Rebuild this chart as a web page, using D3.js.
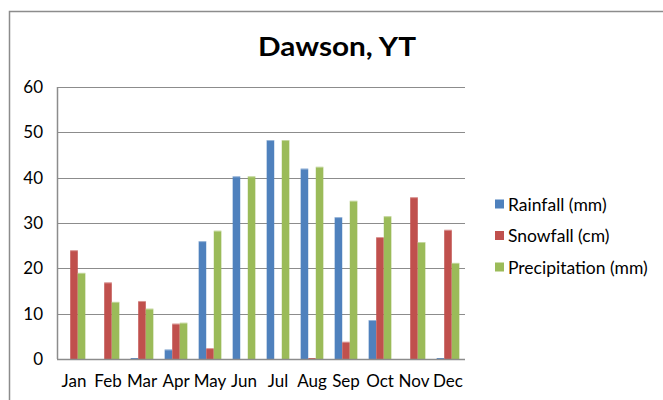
<!DOCTYPE html>
<html>
<head>
<meta charset="utf-8">
<script src="https://cdn.jsdelivr.net/npm/d3@7"></script>
<style>
    body { margin: 0; background: #fff; }
    svg { display: block; font-family: Lato, "Open Sans", sans-serif; }
</style>
</head>
<body>
<svg id="chart" width="663" height="400"></svg>
<script>
// Chart data
const months = ['Jan', 'Feb', 'Mar', 'Apr', 'May', 'Jun', 'Jul', 'Aug', 'Sep', 'Oct', 'Nov', 'Dec'];
const seriesNames = ['Rainfall (mm)', 'Snowfall (cm)', 'Precipitation (mm)'];
const rainfall = [0, 0, 0.2, 2.1, 26.0, 40.3, 48.3, 42.0, 31.3, 8.6, 0, 0.2];
const snowfall = [24.0, 16.9, 12.8, 7.8, 2.4, 0, 0, 0.2, 3.8, 26.9, 35.7, 28.5];
const precipitation = [19.0, 12.6, 11.1, 8.0, 28.3, 40.3, 48.3, 42.4, 34.9, 31.5, 25.8, 21.2];
const yTicks = [0, 10, 20, 30, 40, 50, 60];
const colors = ['#4F81BD', '#C0504D', '#9BBB59'];

const svg = d3.select('#chart');
const plot = { left: 57, right: 465, top: 87, bottom: 359 };

// Chart frame
svg.append('path')
    .attr('d', 'M9.5,400 V11.5 H663')
    .attr('fill', 'none')
    .attr('stroke', '#8c8c8c')
    .attr('stroke-width', 1.5);

// Title
svg.append('text')
    .attr('x', 337)
    .attr('y', 56)
    .attr('text-anchor', 'middle')
    .attr('font-size', 27)
    .attr('font-weight', 'bold')
    .attr('textLength', 158)
    .attr('lengthAdjust', 'spacingAndGlyphs')
    .text('Dawson, YT');

const x = d3.scaleBand()
    .domain(months)
    .range([plot.left, plot.right])
    .paddingInner(0.3333)
    .paddingOuter(0.1667);

const xs = d3.scaleBand()
    .domain(d3.range(3))
    .range([0, x.bandwidth()]);

const y = d3.scaleLinear()
    .domain([0, 60])
    .range([plot.bottom, plot.top]);

// Gridlines
svg.append('g')
    .selectAll('line')
    .data(yTicks.slice(1))
    .enter()
    .append('line')
    .attr('x1', plot.left)
    .attr('x2', plot.right)
    .attr('y1', d => Math.round(y(d)) + 0.5)
    .attr('y2', d => Math.round(y(d)) + 0.5)
    .attr('stroke', '#8c8c8c')
    .attr('stroke-width', 1);

// Y axis
const yAxis = svg.append('g')
    .attr('transform', 'translate(' + plot.left + ',0)')
    .call(d3.axisLeft(y).tickValues(yTicks).tickSize(0).tickPadding(14));
yAxis.select('.domain').remove();
yAxis.selectAll('text')
    .attr('font-size', 17)
    .attr('font-family', 'Lato, sans-serif')
    .attr('fill', '#000');

// Bars
const allSeries = [rainfall, snowfall, precipitation];
const groups = svg.append('g')
    .selectAll('g')
    .data(months)
    .enter()
    .append('g')
    .attr('transform', d => 'translate(' + x(d) + ',0)');

groups.selectAll('rect')
    .data((m, i) => allSeries.map((s, k) => ({ k: k, v: s[i] })))
    .enter()
    .append('rect')
    .attr('x', d => xs(d.k))
    .attr('width', xs.bandwidth())
    .attr('y', d => y(d.v))
    .attr('height', d => y(0) - y(d.v))
    .attr('fill', d => colors[d.k]);

// Light top edge on bars
groups.selectAll('line.hl')
    .data((m, i) => allSeries.map((s, k) => ({ k: k, v: s[i] })).filter(d => d.v > 0.5))
    .enter()
    .append('line')
    .attr('class', 'hl')
    .attr('x1', d => xs(d.k))
    .attr('x2', d => xs(d.k) + xs.bandwidth())
    .attr('y1', d => y(d.v) + 0.5)
    .attr('y2', d => y(d.v) + 0.5)
    .attr('stroke', '#fff')
    .attr('stroke-opacity', 0.4);

// Axis lines
svg.append('line')
    .attr('x1', plot.left).attr('x2', plot.right)
    .attr('y1', plot.bottom + 0.5).attr('y2', plot.bottom + 0.5)
    .attr('stroke', '#8c8c8c').attr('stroke-width', 1.5);
svg.append('line')
    .attr('x1', plot.left + 0.5).attr('x2', plot.left + 0.5)
    .attr('y1', plot.top).attr('y2', plot.bottom)
    .attr('stroke', '#8c8c8c').attr('stroke-width', 1.5);

// X axis labels
const xAxis = svg.append('g')
    .attr('transform', 'translate(0,' + plot.bottom + ')')
    .call(d3.axisBottom(x).tickSize(0).tickPadding(16));
xAxis.select('.domain').remove();
xAxis.selectAll('text')
    .attr('font-size', 17)
    .attr('font-family', 'Lato, sans-serif')
    .attr('fill', '#000');

// Legend
const legend = svg.append('g')
    .selectAll('g')
    .data(seriesNames)
    .enter()
    .append('g')
    .attr('transform', (d, i) => 'translate(495,' + (210.5 + i * 31.5) + ')');

legend.append('rect')
    .attr('x', 0)
    .attr('y', -11)
    .attr('width', 9)
    .attr('height', 9)
    .attr('fill', (d, i) => colors[i]);

legend.append('text')
    .attr('x', 13)
    .attr('y', 0)
    .attr('font-size', 17.5)
    .text(d => d);
</script>
</body>
</html>
